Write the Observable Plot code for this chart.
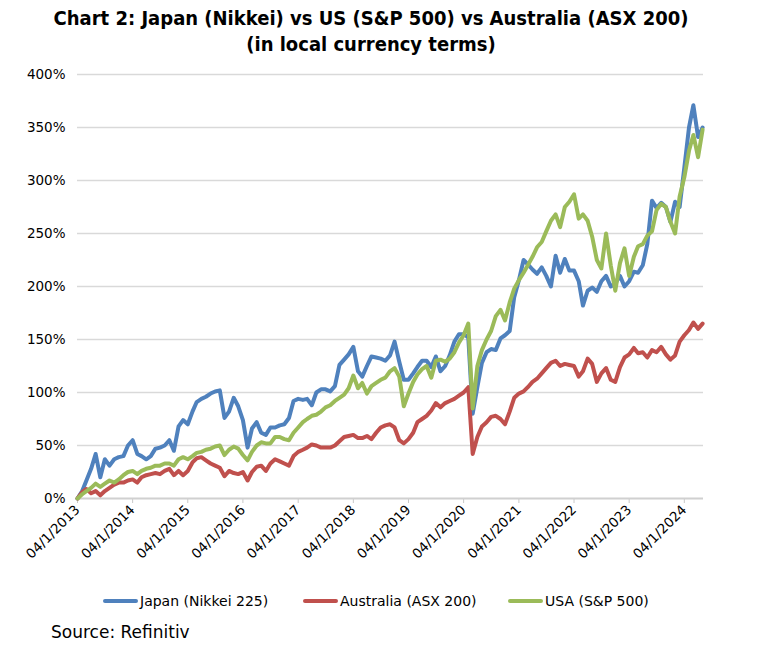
<!DOCTYPE html>
<html>
<head>
<meta charset="utf-8">
<script src="https://cdn.jsdelivr.net/npm/d3@7"></script>
<script src="https://cdn.jsdelivr.net/npm/@observablehq/plot@0.6"></script>
<style>
  html, body { margin: 0; padding: 0; background: #fff; }
  body { width: 760px; height: 650px; overflow: hidden; font-family: "DejaVu Sans", sans-serif; color: #000; }
  #title { height: 62px; box-sizing: border-box; padding-top: 5px; padding-right: 18px; text-align: center;
           font-family: "DejaVu Sans Condensed", "DejaVu Sans", sans-serif; font-weight: bold; font-size: 20px; line-height: 26px; }
  #chart { height: 522px; }
  #legend { height: 34px; position: relative; font-size: 14px; }
  .item { position: absolute; top: 0; height: 34px; display: flex; align-items: center; white-space: nowrap; }
  .sw { width: 35px; height: 4px; border-radius: 2px; margin-right: 2px; }
  #source { padding-left: 51px; font-size: 17px; line-height: 28px; }
</style>
</head>
<body>
<div id="title">Chart 2: Japan (Nikkei) vs US (S&amp;P 500) vs Australia (ASX 200)<br>(in local currency terms)</div>
<div id="chart"></div>
<div id="legend"></div>
<div id="source">Source: Refinitiv</div>
<script>
// Monthly readings (cumulative % change), starting 4 Jan 2013
const japan = [
  0, 7, 17, 28, 42, 20, 37, 31, 37, 39, 40, 50,
  55, 42, 40, 37, 40, 47, 48, 50, 55, 45, 68, 74,
  70, 82, 91, 94, 96, 99, 101, 102, 76, 82, 95, 87,
  74, 48, 66, 72, 62, 60, 67, 67, 69, 70, 76, 92,
  94, 93, 94, 88, 100, 103, 103, 101, 106, 126, 131, 136,
  143, 120, 115, 125, 134, 133, 132, 130, 135, 148, 129, 112,
  112, 118, 124, 130, 130, 124, 134, 120, 125, 135, 148, 155,
  155, 152, 80, 105, 128, 138, 141, 140, 151, 154, 158, 190,
  206, 225, 221, 216, 212, 218, 210, 200, 229, 213, 226, 215,
  215, 205, 182, 196, 199, 195, 205, 210, 200, 203, 210, 200,
  205, 214, 213, 220, 240, 281, 274, 279, 275, 261, 280, 275,
  312, 350, 371, 341, 350
];
const australia = [
  0, 6, 9, 5, 7, 3, 7, 10, 13, 15, 15, 17,
  18, 15, 20, 22, 23, 24, 23, 26, 28, 22, 26, 22,
  26, 34, 38, 39, 36, 33, 31, 29, 21, 26, 24, 23,
  25, 17, 25, 30, 31, 26, 33, 37, 35, 33, 31, 40,
  44, 46, 48, 51, 50, 48, 48, 48, 50, 54, 58, 59,
  60, 57, 57, 59, 56, 62, 67, 69, 70, 67, 55, 52,
  56, 62, 72, 75, 78, 83, 90, 86, 90, 92, 94, 97,
  100, 105, 42, 58, 68, 72, 77, 78, 75, 70, 82, 95,
  99, 101, 105, 110, 113, 118, 123, 128, 130, 125, 127, 126,
  125, 115, 120, 132, 127, 110, 118, 123, 112, 110, 124, 133,
  136, 142, 137, 138, 133, 140, 138, 143, 136, 131, 135, 148,
  154, 159, 166, 160, 165
];
const usa = [
  0, 4, 7, 10, 14, 11, 14, 17, 15, 18, 22, 25,
  26, 23, 26, 28, 29, 31, 31, 33, 33, 31, 37, 39,
  37, 40, 43, 44, 46, 47, 49, 50, 41, 46, 49, 47,
  41, 36, 44, 50, 53, 52, 52, 58, 58, 56, 55, 62,
  67, 72, 75, 78, 79, 82, 86, 88, 92, 95, 98, 104,
  116, 104, 109, 99, 106, 109, 112, 114, 120, 123, 115, 87,
  99, 110, 117, 122, 125, 114, 130, 131, 129, 132, 138, 147,
  154, 165, 85, 125, 140, 150, 158, 172, 178, 168, 185, 198,
  206, 213, 220, 228, 237, 242, 252, 262, 268, 256, 275, 280,
  287, 264, 268, 262, 247, 225, 217, 250, 220, 196, 222, 236,
  210, 228, 238, 240, 248, 252, 272, 278, 275, 261, 250, 285,
  303, 328, 343, 322, 348
];
const seriesNames = ["Japan (Nikkei 225)", "Australia (ASX 200)", "USA (S&P 500)"];
const seriesColors = ["#4F81BD", "#C0504D", "#9BBB59"];
const yTicks = [0, 50, 100, 150, 200, 250, 300, 350, 400];
const tickYears = [2013, 2014, 2015, 2016, 2017, 2018, 2019, 2020, 2021, 2022, 2023, 2024];

const start = new Date(Date.UTC(2013, 0, 4));
const dates = japan.map((_, i) => d3.utcMonth.offset(start, i));
const tickDates = tickYears.map(y => new Date(Date.UTC(y, 0, 4)));
const seriesValues = [japan, australia, usa];
const rows = seriesValues.map((vals, s) => vals.map((v, i) => ({date: dates[i], value: v, series: seriesNames[s]})));

const chart = Plot.plot({
  width: 760, height: 522,
  marginTop: 12, marginBottom: 86, marginLeft: 77, marginRight: 57,
  x: {type: "utc", domain: [start, new Date(Date.UTC(2024, 4, 10))]},
  y: {domain: [0, 400]},
  style: {fontFamily: "DejaVu Sans, sans-serif", fontSize: "13px", color: "#000", background: "#fff"},
  marks: [
    Plot.ruleY(yTicks.filter(d => d > 0), {stroke: "#d9d9d9", strokeWidth: 1.5}),
    Plot.axisY({ticks: yTicks, tickSize: 0, tickPadding: 12, tickFormat: d => d + "%", label: null, fill: "#000", fontSize: 13.5}),
    Plot.axisX({ticks: tickDates, tickSize: 5, tickPadding: 4, tickRotate: -45, stroke: "#c8c8c8", fill: "#000",
                tickFormat: d => "04/1/" + d.getUTCFullYear(), label: null, fontSize: 13.5}),
    Plot.ruleY([0], {stroke: "#d0d0d0", strokeWidth: 2}),
    ...rows.map((r, s) => Plot.lineY(r, {x: "date", y: "value", stroke: seriesColors[s], strokeWidth: 4,
                                          strokeLinejoin: "round", strokeLinecap: "round"}))
  ]
});
document.getElementById("chart").appendChild(chart);

const legendLeft = [103, 303, 508];
const legend = document.getElementById("legend");
seriesNames.forEach((n, i) => {
  const it = document.createElement("div");
  it.className = "item";
  it.style.left = legendLeft[i] + "px";
  const sw = document.createElement("div");
  sw.className = "sw";
  sw.style.background = seriesColors[i];
  const t = document.createElement("span");
  t.textContent = n;
  it.appendChild(sw); it.appendChild(t);
  legend.appendChild(it);
});
</script>
</body>
</html>
